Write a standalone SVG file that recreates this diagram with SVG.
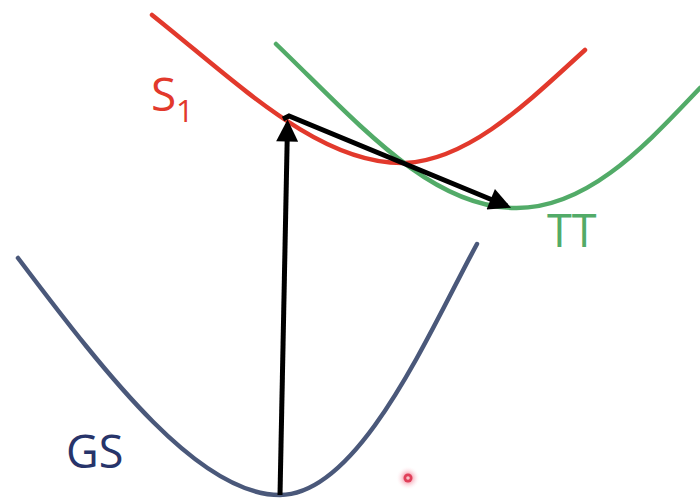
<svg xmlns="http://www.w3.org/2000/svg" width="700" height="501" viewBox="0 0 700 501">
<style>
.c{fill:none;stroke-width:4.5;stroke-linecap:round}
.a{fill:none;stroke:#000;stroke-width:5}
text{font-family:"Open Sans","Liberation Sans",sans-serif}
</style>
<defs>
<marker id="ah" viewBox="0 0 10 10" refX="8" refY="5" markerWidth="5" markerHeight="4.4" markerUnits="strokeWidth" orient="auto">
<path d="M0,0 L10,5 L0,10 z" fill="#000"/>
</marker>
<radialGradient id="g"><stop offset="0.3" stop-color="#f6a2b2"/><stop offset="1" stop-color="#fff" stop-opacity="0"/></radialGradient>
</defs>
<rect width="700" height="501" fill="#fff"/>
<g id="S1">
<path class="c" stroke="#e2392c" d="M152,15 C240,85 320,165 405,163 C470,160 530,100 585,50"/>
<text x="151" y="111" font-size="46" fill="#e2392c">S</text>
<text x="176" y="122" font-size="31" fill="#e2392c">1</text>
</g>
<g id="TT">
<path class="c" stroke="#52ab68" d="M276,44 C360,125 430,207 515,208 C590,209 650,140 700,88"/>
<text x="547" y="247" font-size="45" fill="#52ab68">TT</text>
</g>
<g id="GS">
<path class="c" stroke="#4a587a" d="M18,258 C110,380 200,495 280,495 C360,495 430,330 477,244"/>
<text x="66" y="468" font-size="45" fill="#27346a">GS</text>
</g>
<g id="connectors">
<line class="a" x1="280" y1="495" x2="287.5" y2="124" marker-end="url(#ah)"/>
<path class="a" d="M283,119 L289,116 L507,206" marker-end="url(#ah)"/>
</g>
<g id="dot">
<circle cx="408" cy="478" r="12" fill="url(#g)"/>
<circle cx="408" cy="478" r="4.5" fill="#e0405a"/>
<circle cx="408" cy="478" r="1.8" fill="#f8c0c8"/>
</g>
</svg>
